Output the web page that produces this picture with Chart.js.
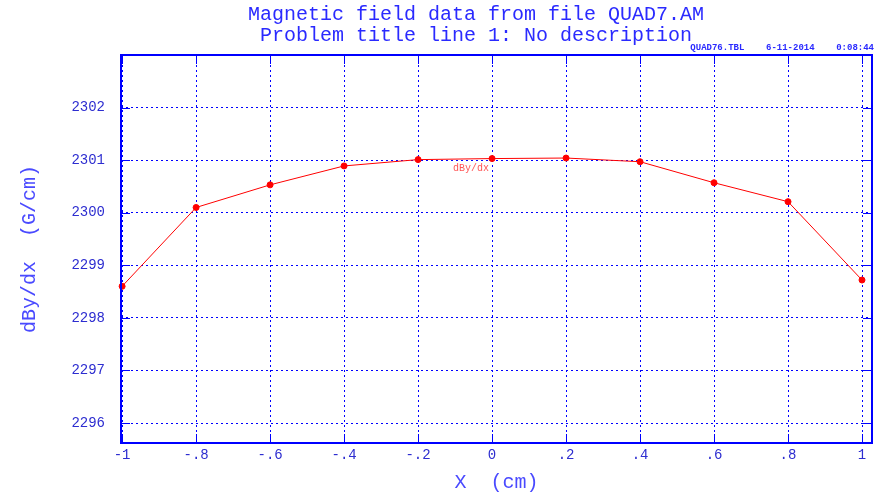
<!DOCTYPE html>
<html><head><meta charset="utf-8">
<script src="https://cdn.jsdelivr.net/npm/chart.js@4.4.1/dist/chart.umd.min.js"></script>
<style>html,body{margin:0;padding:0;background:#fff}#wrap{width:888px;height:495px}</style>
</head><body><div id="wrap"><canvas id="c" width="888" height="495"></canvas></div>
<script>
const xValues = [-1, -0.8, -0.6, -0.4, -0.2, 0, 0.2, 0.4, 0.6, 0.8, 1];
const yValues = [2298.60, 2300.10, 2300.53, 2300.89, 2301.01, 2301.03, 2301.04, 2300.97, 2300.57, 2300.21, 2298.72];
const xTicks = [-1, -0.8, -0.6, -0.4, -0.2, 0, 0.2, 0.4, 0.6, 0.8, 1];
const xTickLabels = ['-1', '-.8', '-.6', '-.4', '-.2', '0', '.2', '.4', '.6', '.8', '1'];
const yTicks = [2296, 2297, 2298, 2299, 2300, 2301, 2302];
const titleLines = ['Magnetic field data from file QUAD7.AM', 'Problem title line 1: No description'];
const stampText = 'QUAD76.TBL    6-11-2014    0:08:44';
const seriesLabel = 'dBy/dx';

const MONO = '"Liberation Mono", "DejaVu Sans Mono", monospace';
const BLUE = '#0000ff';

const decor = {
  id: 'decor',
  afterDraw(chart) {
    const ctx = chart.ctx, a = chart.chartArea;
    const xs = chart.scales.x, ys = chart.scales.y;
    ctx.save();
    // border
    ctx.strokeStyle = BLUE; ctx.lineWidth = 2;
    ctx.strokeRect(a.left, a.top, a.right - a.left, a.bottom - a.top);
    // inward ticks
    ctx.lineWidth = 1;
    ctx.beginPath();
    xTicks.forEach(v => {
      const px = Math.round(xs.getPixelForValue(v)) + 0.5;
      ctx.moveTo(px, a.bottom); ctx.lineTo(px, a.bottom - 9);
      ctx.moveTo(px, a.top); ctx.lineTo(px, a.top + 9);
    });
    yTicks.forEach(v => {
      const py = Math.round(ys.getPixelForValue(v)) + 0.5;
      ctx.moveTo(a.left, py); ctx.lineTo(a.left + 9, py);
      ctx.moveTo(a.right, py); ctx.lineTo(a.right - 9, py);
    });
    ctx.stroke();
    // titles
    ctx.fillStyle = '#2a2aff';
    ctx.font = '20px ' + MONO;
    ctx.textAlign = 'center'; ctx.textBaseline = 'middle';
    ctx.fillText(titleLines[0], 476, 15);
    ctx.fillText(titleLines[1], 476, 36);
    // stamp
    ctx.font = 'bold 9px ' + MONO;
    ctx.textAlign = 'right';
    ctx.fillStyle = '#2a2aff';
    ctx.fillText(stampText, 874, 48);
    // series label
    ctx.font = '10px ' + MONO;
    ctx.fillStyle = '#ff5555';
    ctx.textAlign = 'center';
    ctx.fillText(seriesLabel, xs.getPixelForValue(-0.057), ys.getPixelForValue(2300.85));
    ctx.restore();
  }
};

new Chart(document.getElementById('c'), {
  type: 'scatter',
  data: {
    datasets: [{
      data: xValues.map((x, i) => ({x: x, y: yValues[i]})),
      showLine: true,
      borderColor: '#ff0000',
      backgroundColor: '#ff0000',
      borderWidth: 1,
      pointRadius: 3,
      pointHoverRadius: 3,
      clip: false
    }]
  },
  options: {
    responsive: false,
    animation: false,
    devicePixelRatio: 1,
    layout: {padding: {top: 55, right: 16, left: 0, bottom: 0}},
    plugins: {legend: {display: false}, tooltip: {enabled: false}, title: {display: false}},
    scales: {
      x: {
        type: 'linear', min: -1.003, max: 1.027,
        afterBuildTicks: s => { s.ticks = xTicks.map(v => ({value: v})); },
        afterFit: s => { s.height = 52; },
        ticks: {
          color: '#2d2dd0', font: {family: MONO, size: 14}, padding: 4, maxRotation: 0, autoSkip: false,
          callback: (v) => { const i = xTicks.indexOf(v); return i >= 0 ? xTickLabels[i] : ''; }
        },
        grid: {color: BLUE, lineWidth: 1, drawTicks: false},
        border: {display: false, dash: [2, 3]},
        title: {display: true, text: 'X  (cm)', color: '#4a4aff', font: {family: MONO, size: 20}, padding: {top: 4, bottom: 0}}
      },
      y: {
        type: 'linear', min: 2295.62, max: 2303.0,
        afterBuildTicks: s => { s.ticks = yTicks.map(v => ({value: v})); },
        afterFit: s => { s.width = 121; },
        ticks: {color: '#2d2dd0', font: {family: MONO, size: 14}, padding: 16, callback: v => String(v)},
        grid: {color: BLUE, lineWidth: 1, drawTicks: false},
        border: {display: false, dash: [2, 3]},
        title: {display: true, text: 'dBy/dx  (G/cm)', color: '#4a4aff', font: {family: MONO, size: 20}, padding: {top: 18, bottom: 0}}
      }
    }
  },
  plugins: [decor]
});
</script></body></html>
